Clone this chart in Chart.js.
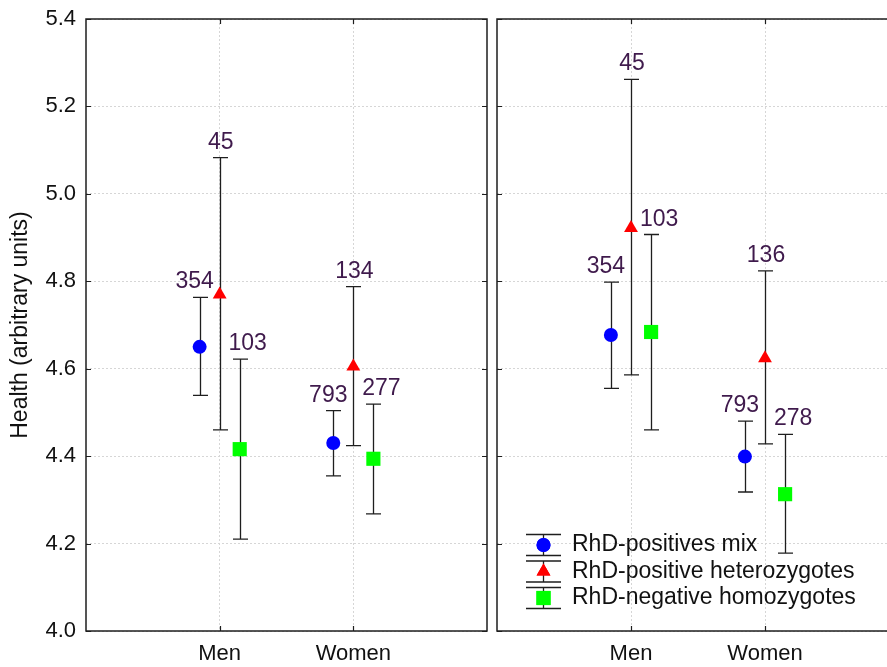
<!DOCTYPE html>
<html>
<head>
<meta charset="utf-8">
<script src="https://cdn.jsdelivr.net/npm/chart.js@4.4.1/dist/chart.umd.min.js"></script>
<style>
  body { margin: 0; background: #fff; overflow: hidden; width: 887px; height: 667px; }
  #left { position: absolute; left: 0; top: 0; }
  #right { position: absolute; left: 487px; top: 0; }
</style>
</head>
<body>
<canvas id="left" width="497" height="667"></canvas>
<canvas id="right" width="422" height="667"></canvas>
<script>
const categories = ['Men', 'Women'];
const seriesNames = ['RhD-positives mix', 'RhD-positive heterozygotes', 'RhD-negative homozygotes'];
const yMin = 4.0;
const yMax = 5.4;
const yStep = 0.2;

// left panel
const mixMeanL = [4.650, 4.430];
const mixLowL = [4.539, 4.355];
const mixHighL = [4.763, 4.504];
const mixNL = [354, 793];

const hetMeanL = [4.770, 4.605];
const hetLowL = [4.460, 4.424];
const hetHighL = [5.083, 4.788];
const hetNL = [45, 134];

const negMeanL = [4.416, 4.394];
const negLowL = [4.210, 4.268];
const negHighL = [4.622, 4.519];
const negNL = [103, 277];

// right panel
const mixMeanR = [4.677, 4.399];
const mixLowR = [4.555, 4.318];
const mixHighR = [4.798, 4.480];
const mixNR = [354, 793];

const hetMeanR = [4.922, 4.624];
const hetLowR = [4.586, 4.428];
const hetHighR = [5.262, 4.824];
const hetNR = [45, 136];

const negMeanR = [4.684, 4.313];
const negLowR = [4.460, 4.178];
const negHighR = [4.907, 4.450];
const negNR = [103, 278];

const FONT = 'Arial, "Liberation Sans", sans-serif';
const LINE = '#1e1e1e';
const LABEL_COLOR = '#3f1a4c';
const GRID = '#d6d6d6';
const seriesStyle = [
  { color: '#0000ff', pointStyle: 'circle', radius: 7, shift: -0.15, labelDx: -5 },
  { color: '#ff0000', pointStyle: 'triangle', radius: 8, shift: 0, labelDx: 1 },
  { color: '#00ff00', pointStyle: 'rect', radius: 10, shift: 0.15, labelDx: 8 }
];

Chart.defaults.font.family = FONT;
Chart.defaults.color = '#111';

const makePoints = (mean, low, high, n, s) => mean.map((m, i) => ({
  x: i + 1 + seriesStyle[s].shift,
  y: m,
  lo: low[i],
  hi: high[i],
  n: n[i]
}));

const makeDatasets = (groups) => groups.map((g, s) => ({
  label: seriesNames[s],
  data: makePoints(g[0], g[1], g[2], g[3], s),
  pointStyle: seriesStyle[s].pointStyle,
  pointRadius: seriesStyle[s].radius,
  pointHoverRadius: seriesStyle[s].radius,
  backgroundColor: seriesStyle[s].color,
  borderColor: seriesStyle[s].color,
  borderWidth: 0,
  showLine: false
}));

const errorBars = {
  id: 'errorBars',
  beforeDatasetsDraw(chart) {
    const { ctx, scales: { x, y } } = chart;
    ctx.save();
    ctx.strokeStyle = LINE;
    ctx.lineWidth = 1.3;
    chart.data.datasets.forEach((ds) => {
      ds.data.forEach((p) => {
        const px = Math.round(x.getPixelForValue(p.x)) + 0.5;
        const top = y.getPixelForValue(p.hi);
        const bot = y.getPixelForValue(p.lo);
        ctx.beginPath();
        ctx.moveTo(px, top); ctx.lineTo(px, bot);
        ctx.moveTo(px - 7.5, top); ctx.lineTo(px + 7.5, top);
        ctx.moveTo(px - 7.5, bot); ctx.lineTo(px + 7.5, bot);
        ctx.stroke();
      });
    });
    ctx.restore();
  },
  afterDatasetsDraw(chart) {
    const { ctx, scales: { x, y } } = chart;
    ctx.save();
    ctx.fillStyle = LABEL_COLOR;
    ctx.font = '23px ' + FONT;
    ctx.textAlign = 'center';
    ctx.textBaseline = 'alphabetic';
    chart.data.datasets.forEach((ds, s) => {
      ds.data.forEach((p) => {
        const px = x.getPixelForValue(p.x) + seriesStyle[s].labelDx;
        ctx.fillText(String(p.n), px, y.getPixelForValue(p.hi) - 9);
      });
    });
    ctx.restore();
  }
};

const frame = {
  id: 'frame',
  afterDraw(chart) {
    const { ctx, chartArea: a, scales: { x, y } } = chart;
    ctx.save();
    ctx.strokeStyle = LINE;
    ctx.lineWidth = 1.5;
    ctx.strokeRect(a.left, a.top, a.right - a.left, a.bottom - a.top);
    ctx.lineWidth = 1.2;
    ctx.beginPath();
    y.ticks.forEach((t) => {
      const py = Math.round(y.getPixelForValue(t.value)) + 0.5;
      ctx.moveTo(a.left, py); ctx.lineTo(a.left + 5, py);
      ctx.moveTo(a.right, py); ctx.lineTo(a.right - 5, py);
    });
    x.ticks.forEach((t) => {
      const px = Math.round(x.getPixelForValue(t.value)) + 0.5;
      ctx.moveTo(px, a.top); ctx.lineTo(px, a.top + 5);
      ctx.moveTo(px, a.bottom); ctx.lineTo(px, a.bottom - 5);
    });
    ctx.stroke();
    ctx.restore();
  }
};

const errLegend = {
  id: 'errLegend',
  afterDraw(chart, args, opts) {
    if (!opts.show) return;
    const { ctx, chartArea: a } = chart;
    const cx = a.left + 46;
    ctx.save();
    ctx.font = '23px ' + FONT;
    ctx.textBaseline = 'middle';
    ctx.textAlign = 'left';
    chart.data.datasets.forEach((ds, s) => {
      const cy = 545 + s * 26.5;
      ctx.strokeStyle = LINE;
      ctx.lineWidth = 1.3;
      ctx.beginPath();
      ctx.moveTo(cx + 0.5, cy - 10.5); ctx.lineTo(cx + 0.5, cy + 10.5);
      ctx.moveTo(cx - 17, cy - 10.5); ctx.lineTo(cx + 18, cy - 10.5);
      ctx.moveTo(cx - 17, cy + 10.5); ctx.lineTo(cx + 18, cy + 10.5);
      ctx.stroke();
      ctx.fillStyle = seriesStyle[s].color;
      Chart.helpers.drawPoint(ctx, {
        pointStyle: seriesStyle[s].pointStyle,
        radius: seriesStyle[s].radius,
        borderWidth: 0
      }, cx + 0.5, cy);
      ctx.fill();
      ctx.fillStyle = '#111';
      ctx.fillText(ds.label, a.left + 75, cy);
    });
    ctx.restore();
  }
};

const makeConfig = (groups, isLeft) => ({
  type: 'scatter',
  data: { datasets: makeDatasets(groups) },
  options: {
    responsive: false,
    animation: false,
    events: [],
    layout: { padding: { top: 19, right: isLeft ? 2 : 0, left: isLeft ? 0 : 10, bottom: 0 } },
    plugins: {
      legend: { display: false },
      tooltip: { enabled: false },
      errLegend: { show: !isLeft }
    },
    scales: {
      x: {
        type: 'linear',
        min: 0,
        max: categories.length + 1,
        afterBuildTicks: (scale) => { scale.ticks = categories.map((c, i) => ({ value: i + 1 })); },
        afterFit: (scale) => {
          scale.height = 36;
          scale.paddingLeft = 0;
          scale.paddingRight = 0;
        },
        ticks: {
          callback: (v, i) => categories[i],
          font: { size: 22 },
          padding: 10,
          maxRotation: 0
        },
        grid: { color: GRID, lineWidth: 1, drawTicks: false },
        border: { display: false, dash: [2, 2] }
      },
      y: {
        min: yMin,
        max: yMax,
        afterFit: (scale) => {
          scale.width = isLeft ? 86 : 0;
          scale.paddingTop = 0;
          scale.paddingBottom = 0;
        },
        ticks: {
          display: isLeft,
          stepSize: yStep,
          callback: (v) => v.toFixed(1),
          font: { size: 22 },
          padding: 10
        },
        title: {
          display: isLeft,
          text: 'Health (arbitrary units)',
          font: { size: 23 },
          padding: { top: 7, bottom: 0 }
        },
        grid: { color: GRID, lineWidth: 1, drawTicks: false },
        border: { display: false, dash: [2, 2] }
      }
    }
  },
  plugins: [errorBars, frame, errLegend]
});

new Chart(document.getElementById('left'), makeConfig([
  [mixMeanL, mixLowL, mixHighL, mixNL],
  [hetMeanL, hetLowL, hetHighL, hetNL],
  [negMeanL, negLowL, negHighL, negNL]
], true));

new Chart(document.getElementById('right'), makeConfig([
  [mixMeanR, mixLowR, mixHighR, mixNR],
  [hetMeanR, hetLowR, hetHighR, hetNR],
  [negMeanR, negLowR, negHighR, negNR]
], false));
</script>
</body>
</html>
